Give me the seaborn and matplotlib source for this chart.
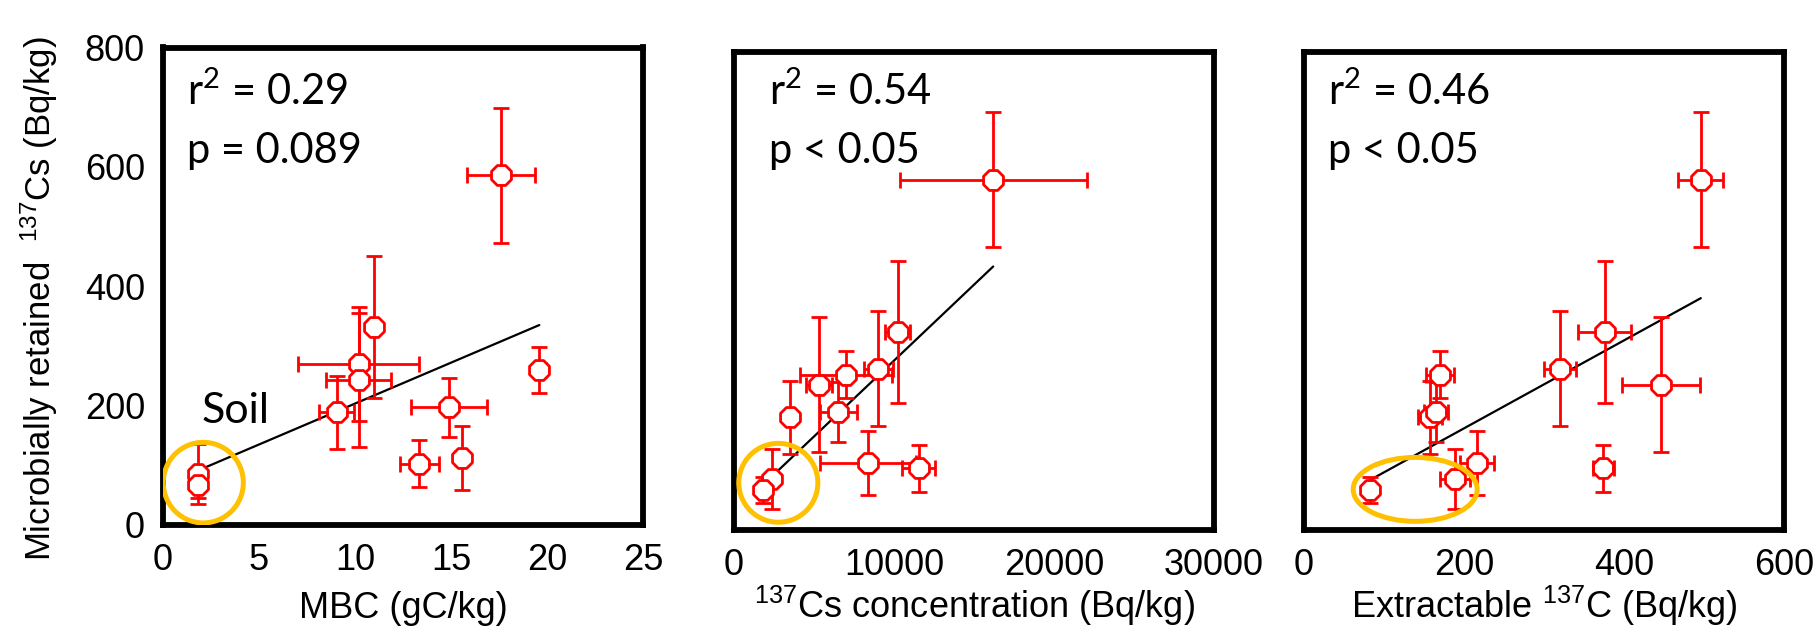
import numpy as np
import pandas as pd
import matplotlib
matplotlib.use("Agg")
import matplotlib.pyplot as plt
import seaborn as sns
from matplotlib.patches import Ellipse

# ---- data ----
retained = [586, 331, 270, 243, 189, 197, 103, 112, 260, 85, 67]
retained_err = [113, 119, 96, 113, 61, 50, 39, 54, 39, 50, 21]

mbc = [17.6, 11.0, 10.2, 10.2, 9.05, 14.9, 13.35, 15.55, 19.6, 1.8, 1.8]
mbc_err = [1.75, 0.3, 3.15, 1.7, 0.9, 2.0, 1.0, 0.35, 0.35, 0.15, 0.15]

cs_conc = [16200, 10230, 9020, 5310, 3500, 6520, 11540, 8350, 7000, 2350, 1830]
cs_conc_err = [5850, 790, 900, 800, 250, 1150, 1040, 3000, 2875, 300, 300]

extract = [496, 376, 320, 446, 158, 165, 374, 216, 170, 189, 83]
extract_err = [28, 33, 20, 49, 15, 15, 13, 21, 18, 19, 6]

fit1_x, fit1_y = [1.8, 19.6], [91, 335]
fit2_x, fit2_y = [1830, 16200], [76, 441]
fit3_x, fit3_y = [83, 496], [84, 388]

r2_values = ["0.29", "0.54", "0.46"]
p_values = ["p = 0.089", "p < 0.05", "p < 0.05"]

xlabels = ["MBC (gC/kg)", r"$^{137}$Cs concentration (Bq/kg)", r"Extractable $^{137}$C (Bq/kg)"]
ylabel = r"Microbially retained  $^{137}$Cs (Bq/kg)"

# ---- style ----
sns.set_theme(style="white")
plt.rcParams["font.family"] = ["Liberation Sans", "DejaVu Sans"]
plt.rcParams["mathtext.fontset"] = "custom"
plt.rcParams["mathtext.rm"] = "Liberation Sans"
plt.rcParams["mathtext.it"] = "Liberation Sans:italic"
plt.rcParams["mathtext.bf"] = "Liberation Sans:bold"

RED = "#FF0000"
GOLD = "#FFC000"
ANNOT_FONT = ["Lato", "DejaVu Sans"]

fig = plt.figure(figsize=(18.19, 6.27), dpi=100)
W, H = 1819, 627
def box(l, r, t, b):
    return [l / W, 1 - b / H, (r - l) / W, (b - t) / H]

ax1 = fig.add_axes(box(163, 643, 47.5, 525))
ax2 = fig.add_axes(box(734, 1214, 52, 530))
ax3 = fig.add_axes(box(1304, 1784, 52, 530))

panels = [
    (ax1, mbc, mbc_err, fit1_x, fit1_y, (0, 25)),
    (ax2, cs_conc, cs_conc_err, fit2_x, fit2_y, (0, 30000)),
    (ax3, extract, extract_err, fit3_x, fit3_y, (0, 600)),
]

for i, (ax, xv, xe, fx, fy, xlim) in enumerate(panels):
    df = pd.DataFrame({"x": xv, "y": retained})
    sns.lineplot(x=fx, y=fy, ax=ax, color="black", linewidth=1.6, zorder=2)
    ax.errorbar(xv, retained, xerr=xe, yerr=retained_err, fmt="none",
                ecolor=RED, elinewidth=2.0, capsize=5.5, capthick=2.0, zorder=3)
    sns.scatterplot(data=df, x="x", y="y", ax=ax, marker="8", s=240,
                    color="white", edgecolor=RED, linewidth=2.0, zorder=4)
    ax.set_xlim(*xlim)
    ax.set_ylim(0, 800)
    for sp in ax.spines.values():
        sp.set_visible(True)
        sp.set_linewidth(4.2)
        sp.set_color("black")
    ax.set_yticks([0, 200, 400, 600, 800])
    ax.tick_params(axis="both", which="major", direction="in", length=8.5, width=1.5,
                   labelsize=26, pad=13, colors="black")
    ax.tick_params(axis="both", which="minor", direction="in", length=4, width=1.5)
    ax.set_xlabel(xlabels[i], fontsize=26, color="black")
    ax.xaxis.label.set_verticalalignment("baseline")
    bottom_px = 525 if i == 0 else 530
    ax.xaxis.set_label_coords(0.5, (bottom_px - 618) / 478)
    ax.set_ylabel("")
    tx = 0.073 if i == 1 else 0.05
    ty = 0.889 if i > 0 else 0.88
    ty2 = 0.768 if i > 0 else 0.758
    ax.text(tx, ty, r"r$^{\mathdefault{2}}$ = " + r2_values[i], transform=ax.transAxes,
            fontsize=30, family=ANNOT_FONT, va="baseline", ha="left", color="black")
    ax.text(tx, ty2, p_values[i], transform=ax.transAxes, fontsize=30,
            family=ANNOT_FONT, va="baseline", ha="left", color="black")

ax1.set_xticks([0, 5, 10, 15, 20, 25])
ax1.set_ylabel(ylabel, fontsize=25, color="black")
ax1.yaxis.set_label_coords(-0.215, 0.473)
ax1.text(0.081, 0.2136, "Soil", transform=ax1.transAxes, fontsize=31,
         family=ANNOT_FONT, va="baseline", ha="left", color="black")

ax2.set_xticks([0, 10000, 20000, 30000])
ax2.set_xticks([5000, 15000, 25000], minor=True)
ax2.set_xticklabels(["0", "10000", "20000", "30000"])
ax3.set_xticks([0, 200, 400, 600])
for ax in (ax2, ax3):
    ax.set_yticklabels([])

# soil highlight rings
ax1.add_patch(Ellipse((2.1, 71), width=4.17, height=135, fill=False,
                      edgecolor=GOLD, linewidth=3.6, zorder=5))
ax2.add_patch(Ellipse((2771, 79), width=4940, height=132, fill=False,
                      edgecolor=GOLD, linewidth=3.6, zorder=5))
ax3.add_patch(Ellipse((139, 68), width=155, height=107, fill=False,
                      edgecolor=GOLD, linewidth=3.6, zorder=5))

fig.savefig("out.png", dpi=100, facecolor="white")
